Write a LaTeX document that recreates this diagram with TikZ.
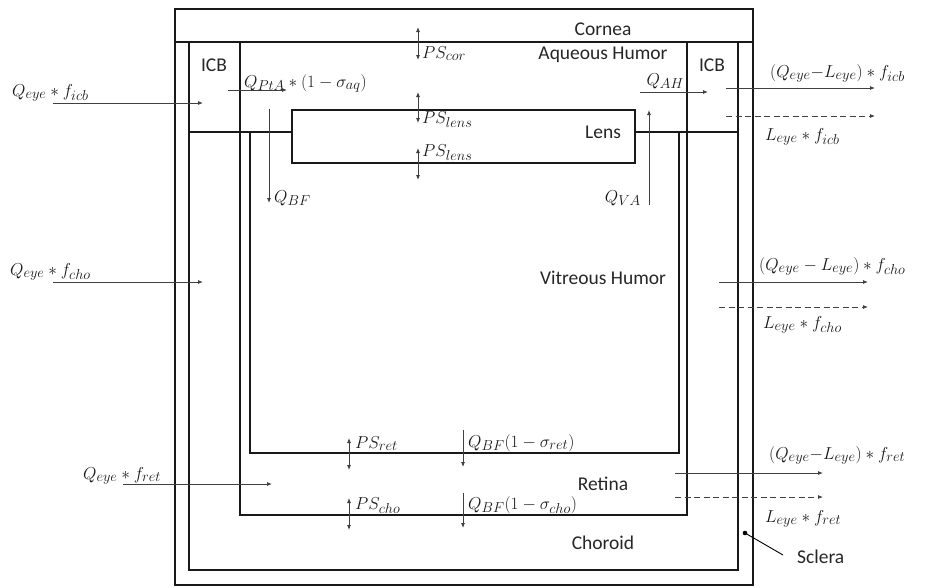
\documentclass[tikz,border=0pt]{standalone}
\usepackage{fontspec}
\newfontfamily\calib{Carlito}
\DeclareMathSizes{17.28}{17.28}{14.4}{12}
\usetikzlibrary{arrows.meta}
\begin{document}
\begin{tikzpicture}[x=1pt,y=-1pt,
  wall/.style={line width=1.7pt, draw=black!90},
  flow/.style={line width=0.8pt, draw=black!75, -{Latex[length=5pt,width=4pt]}},
  dflow/.style={flow, dash pattern=on 6pt off 3.5pt},
  perm/.style={line width=0.8pt, draw=black!75, {Latex[length=5pt,width=4pt]}-{Latex[length=5pt,width=4pt]}},
  region/.style={font=\calib\fontsize{19.5}{22}\selectfont, inner sep=0pt, text=black!85},
  lab/.style={font=\fontsize{17.28}{20}\selectfont, inner sep=0pt, text=black!90}]
\useasboundingbox (0,0) rectangle (932,587);

% walls
\draw[wall] (175,9) rectangle (753,585);
\draw[wall] (175,42) -- (753,42);
\draw[wall] (189,42) -- (189,570) -- (738,570) -- (738,42);
\draw[wall] (240,42) -- (240,515) -- (687,515) -- (687,42);
\draw[wall] (250,132) -- (250,453) -- (679,453) -- (679,132);
\draw[wall] (189,132) -- (292,132);
\draw[wall] (635,132) -- (738,132);
\draw[wall] (292,110) rectangle (635,163);

% region names
\node[region] (cornea) at (603,29) {Cornea};
\node[region] (aqueous) at (603,55) {Aqueous Humor};
\node[region] (icbl) at (214,65) {ICB};
\node[region] (icbr) at (712,65) {ICB};
\node[region] (lens) at (603,132) {Lens};
\node[region] (vitreous) at (603,278) {Vitreous Humor};
\node[region] (retina) at (603,484) {Retina};
\node[region] (choroid) at (603,543) {Choroid};

% inflows
\node[lab, anchor=base west] (qicb) at (12,96) {$Q_{eye}\ast f_{icb}$};
\draw[flow] (53,103) -- (203,103);
\node[lab, anchor=base west] (qcho) at (10,275) {$Q_{eye}\ast f_{cho}$};
\draw[flow] (53,282) -- (203,282);
\node[lab, anchor=base west] (qret) at (83,479) {$Q_{eye}\ast f_{ret}$};
\draw[flow] (123,484) -- (272,484);

% internal flows
\node[lab, anchor=base west] (qpta) at (244,87) {$Q_{PtA}\ast(1-\sigma_{aq})$};
\draw[flow] (228,90) -- (287,90);
\node[lab, anchor=base east] (qah) at (684,85) {$Q_{AH}$};
\draw[flow] (640,92) -- (708,92);
\draw[flow] (269,109) -- (269,203);
\node[lab, anchor=base west] (qbf) at (274,202) {$Q_{BF}$};
\draw[flow] (649,205) -- (649,110);
\node[lab, anchor=base east] (qva) at (641,202) {$Q_{VA}$};

% permeabilities
\draw[perm] (418,27) -- (418,60);
\node[lab, anchor=base west] (pscor) at (422,58) {$PS_{cor}$};
\draw[perm] (418,92) -- (418,123);
\node[lab, anchor=base west] (pslens1) at (422,123) {$PS_{lens}$};
\draw[perm] (418,148) -- (418,180);
\node[lab, anchor=base west] (pslens2) at (422,156) {$PS_{lens}$};
\draw[perm] (349,438) -- (349,470);
\node[lab, anchor=base west] (psret) at (355,448) {$PS_{ret}$};
\draw[perm] (349,498) -- (349,530);
\node[lab, anchor=base west] (pscho) at (355,509) {$PS_{cho}$};
\draw[flow] (463,430) -- (463,467);
\node[lab, anchor=base west] (qbfret) at (468,447) {$Q_{BF}(1-\sigma_{ret})$};
\draw[flow] (463,493) -- (463,528);
\node[lab, anchor=base west] (qbfcho) at (468,509) {$Q_{BF}(1-\sigma_{cho})$};

% outflows
\draw[flow] (726,88) -- (875,88);
\node[lab, anchor=base west] (oicb) at (770,77) {$(Q_{eye}{-}L_{eye})\ast f_{icb}$};
\draw[dflow] (726,116) -- (875,116);
\node[lab, anchor=base west] (licb) at (765,140) {$L_{eye}\ast f_{icb}$};
\draw[flow] (719,282) -- (868,282);
\node[lab, anchor=base west] (ocho) at (759,270) {$(Q_{eye}-L_{eye})\ast f_{cho}$};
\draw[dflow] (719,307) -- (868,307);
\node[lab, anchor=base west] (lcho) at (763,328) {$L_{eye}\ast f_{cho}$};
\draw[flow] (675,473) -- (823,473);
\node[lab, anchor=base west] (oret) at (769,459) {$(Q_{eye}{-}L_{eye})\ast f_{ret}$};
\draw[dflow] (675,497) -- (823,497);
\node[lab, anchor=base west] (lret) at (765,522) {$L_{eye}\ast f_{ret}$};

% sclera
\fill (745,533) circle (2.3pt);
\node[region, anchor=west] (sclera) at (797,557) {Sclera};
\draw[line width=0.9pt] (745,533) -- (783,555);
\end{tikzpicture}
\end{document}
